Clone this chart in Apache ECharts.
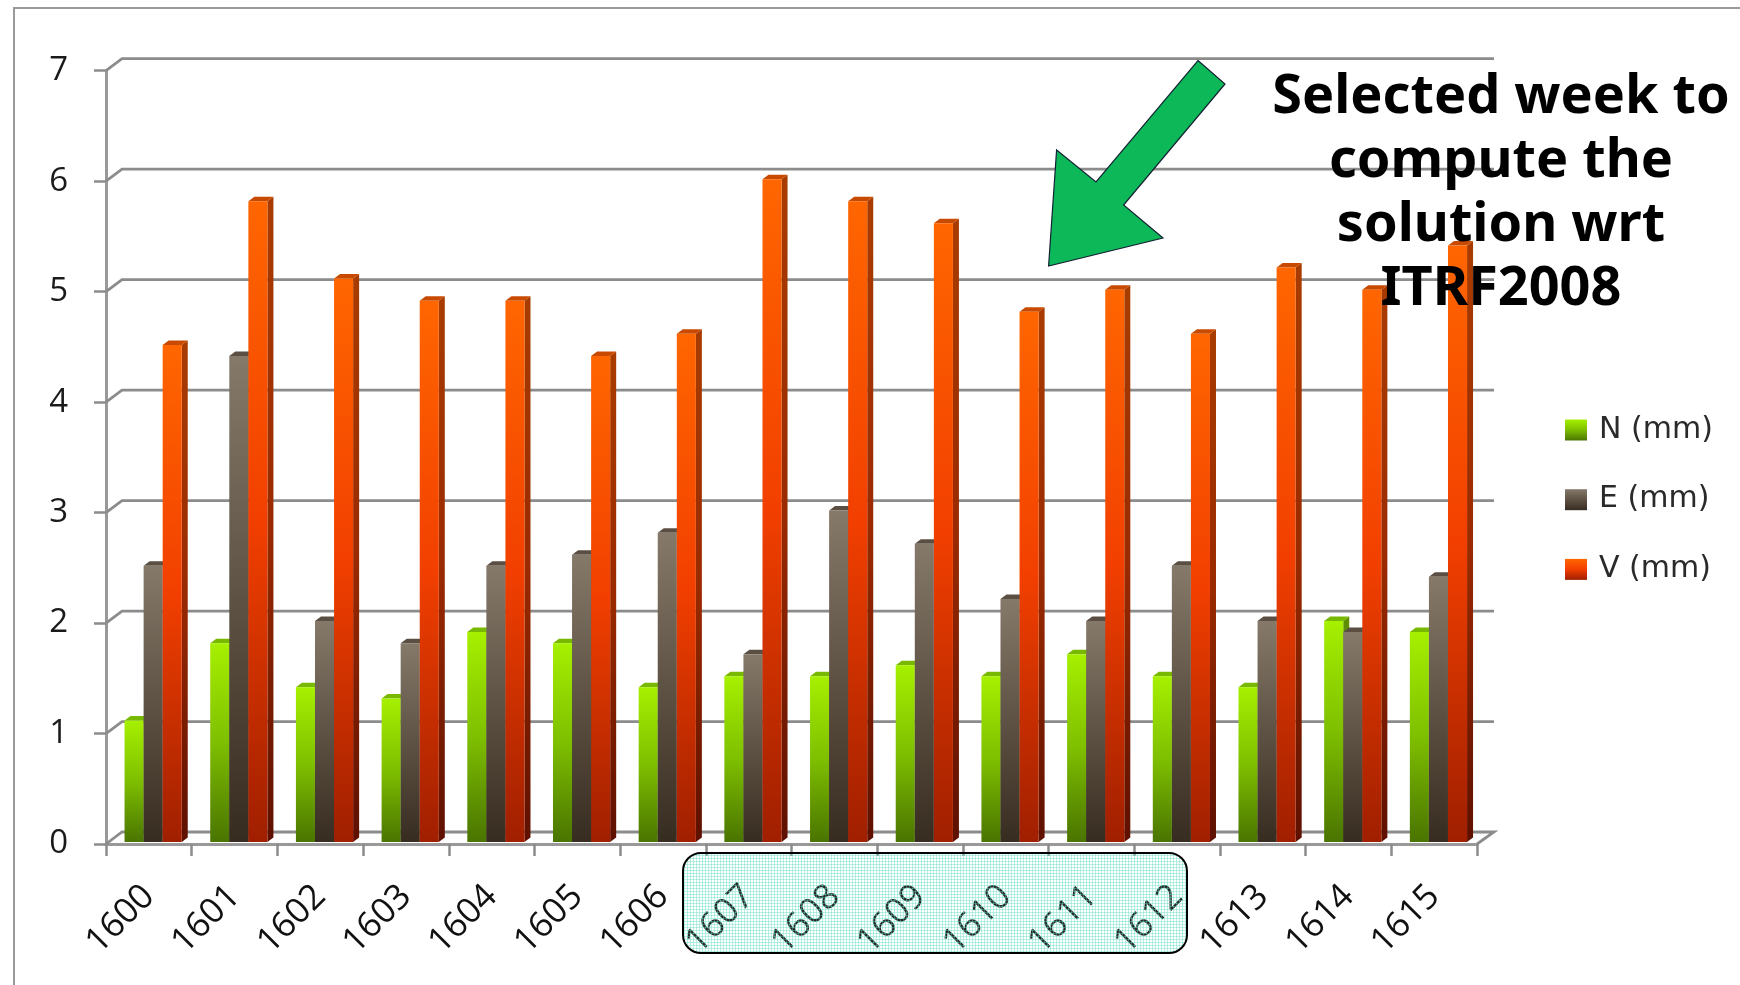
<!DOCTYPE html>
<html><head><meta charset="utf-8">
<style>html,body{margin:0;padding:0;background:#fff}#c{width:1740px;height:985px}</style>
<script src="https://cdn.jsdelivr.net/npm/echarts@6/dist/echarts.min.js"></script>
</head><body><div id="c"></div>
<script>
const categories=['1600','1601','1602','1603','1604','1605','1606','1607','1608','1609','1610','1611','1612','1613','1614','1615'];
const seriesNames=['N (mm)','E (mm)','V (mm)'];
const nValues=[1.1,1.8,1.4,1.3,1.9,1.8,1.4,1.5,1.5,1.6,1.5,1.7,1.5,1.4,2.0,1.9];
const eValues=[2.5,4.4,2.0,1.8,2.5,2.6,2.8,1.7,3.0,2.7,2.2,2.0,2.5,2.0,1.9,2.4];
const vValues=[4.5,5.8,5.1,4.9,4.9,4.4,4.6,6.0,5.8,5.6,4.8,5.0,4.6,5.2,5.0,5.4];
const yTicks=[0,1,2,3,4,5,6,7];
const annotationLines=['Selected week to','compute the','solution wrt','ITRF2008'];

const grad=(a,b,c)=>new echarts.graphic.LinearGradient(0,0,0,1,[{offset:0,color:a},{offset:.5,color:b},{offset:1,color:c}]);
const faces=[
 {front:['#a6f000','#7ebf00','#4a7400'],side:['#5f9000','#4c7400','#2e4a00'],top:'#79b800'},
 {front:['#85796a','#5e5244','#372c20'],side:['#4d4338','#3a3025','#221a10'],top:'#5a4f42'},
 {front:['#ff6600','#f23f00','#a01f00'],side:['#a83c00','#9a2a00','#5e1000'],top:'#c84a00'}
];
const DX=6,DY=4.5;
function barRender(si){
 return function(params,api){
  const i=api.value(0),v=api.value(1);
  const p=api.coord([i,v]),b=api.coord([i,0]),w=api.size([1,0])[0]*0.2225;
  const x=p[0]+(si-1)*w-w/2+4.3,yt=p[1]-2,yb=b[1]-2;
  const f=faces[si];
  return {type:'group',children:[
   {type:'polygon',shape:{points:[[x+w,yt],[x+w+DX,yt-DY],[x+w+DX,yb-DY],[x+w,yb]]},style:{fill:grad(...f.side)}},
   {type:'polygon',shape:{points:[[x,yt],[x+DX,yt-DY],[x+w+DX,yt-DY],[x+w,yt]]},style:{fill:f.top}},
   {type:'rect',shape:{x:x,y:yt,width:w,height:yb-yt},style:{fill:grad(...f.front)}}
  ]};
 };
}
function wallRender(params,api){
 const v=api.value(0);
 const half=api.size([1,0])[0]/2;
 const a=api.coord([0,v]),c=api.coord([categories.length-1,v]);
 const L=a[0]-half,R=c[0]+half;
 const pts=[[L,a[1]],[L+16,a[1]-12],[R+17,a[1]-12]];
 if(v===0)pts.push([R,a[1]]);
 return {type:'polyline',shape:{points:pts},style:{stroke:'#8c8c8c',lineWidth:2.8,fill:null}};
}
const barSeries=[nValues,eValues,vValues].map((vals,si)=>({
 type:'custom',name:seriesNames[si],coordinateSystem:'cartesian2d',z:5+si,
 renderItem:barRender(si),encode:{x:0,y:1},
 itemStyle:{color:grad(...faces[si].front)},
 data:vals.map((v,i)=>[i,v])
}));
const pat=document.createElement('canvas');pat.width=pat.height=3;
{const g=pat.getContext('2d');g.fillStyle='rgba(105,225,195,0.45)';g.fillRect(0,0,3,1);g.fillRect(0,0,1,3);g.fillStyle='rgba(255,255,255,0.1)';g.fillRect(1,1,2,2);}
const chart=echarts.init(document.getElementById('c'),null,{renderer:'canvas'});
chart.setOption({
 animation:false,backgroundColor:'#fff',
 grid:{left:106,right:263,top:70.7,bottom:141,containLabel:false},
 legend:{left:1560,top:409,orient:'vertical',itemWidth:22,itemHeight:21,itemGap:37.7,icon:'rect',
  data:seriesNames.map((n,si)=>({name:n,itemStyle:{color:grad(...faces[si].front)}})),
  textStyle:{fontFamily:'DejaVu Sans',fontSize:30,lineHeight:28,color:'#2a2a2a',padding:[0,0,4,7]}},
 xAxis:{type:'category',data:categories,boundaryGap:true,
  axisLine:{lineStyle:{color:'#999',width:3}},
  axisTick:{show:true,length:12,alignWithLabel:false,lineStyle:{color:'#8c8c8c',width:2.5}},
  axisLabel:{rotate:45,margin:47,fontFamily:'Open Sans',fontSize:35,color:'#111',interval:0},
  splitLine:{show:false}},
 yAxis:{type:'value',min:0,max:7,interval:1,
  axisLine:{show:true,lineStyle:{color:'#999',width:3}},
  axisTick:{show:true,length:12,lineStyle:{color:'#8c8c8c',width:2.5}},
  axisLabel:{margin:38,fontFamily:'Open Sans',fontSize:33,color:'#1a1a1a',padding:[4,0,0,0]},
  splitLine:{show:false}},
 series:[
  {type:'custom',name:'wall',coordinateSystem:'cartesian2d',z:1,renderItem:wallRender,encode:{y:0},data:yTicks.map(v=>[v])},
  ...barSeries
 ],
 graphic:[
  {type:'polyline',z:20,shape:{points:[[14,985],[14,8],[1740,8]]},style:{stroke:'#9a9a9a',lineWidth:2,fill:null}},
  {type:'rect',z:20,shape:{x:683,y:853,width:504,height:100,r:18},style:{fill:{image:pat,repeat:'repeat'},stroke:'#000',lineWidth:2}},
  {type:'polygon',z:21,shape:{points:[[1198,60.5],[1225,84],[1123.6,205],[1163,238],[1048.6,266],[1056.6,150],[1096,182]]},style:{fill:'#0cb858',stroke:'#123',lineWidth:1.2}},
  ...annotationLines.map((t,i)=>({type:'text',z:22,style:{text:t,x:1501,y:125+i*64,align:'center',verticalAlign:'bottom',font:'bold 54px "Noto Sans"',fill:'#000'}}))
 ]
});
</script></body></html>
